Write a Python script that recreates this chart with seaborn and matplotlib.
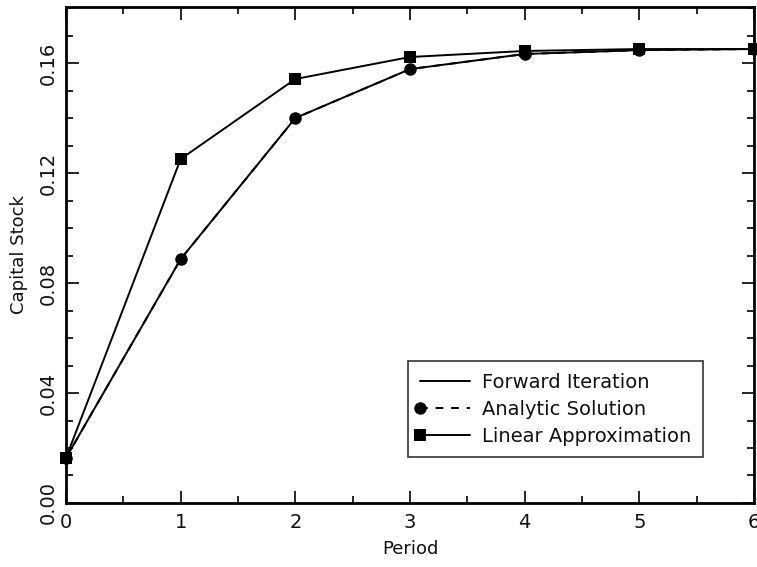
import numpy as np
import pandas as pd
import matplotlib
matplotlib.use("Agg")
import matplotlib.pyplot as plt
import seaborn as sns
from matplotlib.ticker import MultipleLocator, FormatStrFormatter
from matplotlib.legend_handler import HandlerLine2D
from matplotlib.lines import Line2D

period = [0, 1, 2, 3, 4, 5, 6]
forward_iteration = [0.0164, 0.0887, 0.1400, 0.1578, 0.1633, 0.1647, 0.1651]
analytic_solution = [0.0164, 0.0887, 0.1400, 0.1578, 0.1633, 0.1647, 0.1651]
linear_approx = [0.0164, 0.1251, 0.1542, 0.1622, 0.1644, 0.1651, 0.1651]
series_names = ["Forward Iteration", "Analytic Solution", "Linear Approximation"]

sns.set_style("white")
plt.rcParams['font.family'] = ['DejaVu Sans']


class LeftMarkerHandler(HandlerLine2D):
    def create_artists(self, legend, orig_handle, xdescent, ydescent, width,
                       height, fontsize, trans):
        artists = super().create_artists(legend, orig_handle, xdescent, ydescent,
                                         width, height, fontsize, trans)
        for a in artists:
            a.set_markevery([0])
        return artists


fig = plt.figure(figsize=(7.57, 5.67), dpi=100)
ax = fig.add_axes([0.0872, 0.1129, 0.9088, 0.8748])

df_f = pd.DataFrame({"Period": period, "K": forward_iteration})
df_a = pd.DataFrame({"Period": period, "K": analytic_solution})
df_l = pd.DataFrame({"Period": period, "K": linear_approx})

sns.lineplot(data=df_f, x="Period", y="K", ax=ax, color="black", lw=1.4,
             label=series_names[0], clip_on=False)
sns.lineplot(data=df_a, x="Period", y="K", ax=ax, color="black", lw=1.4,
             linestyle=(0, (4, 4)), marker="o", markersize=9, markeredgewidth=0,
             label=series_names[1], clip_on=False)
sns.lineplot(data=df_l, x="Period", y="K", ax=ax, color="black", lw=1.4,
             marker="s", markersize=9, markeredgewidth=0,
             label=series_names[2], clip_on=False)

ax.set_xlim(0, 6)
ax.set_ylim(0, 0.1804)
ax.xaxis.set_major_locator(MultipleLocator(1))
ax.xaxis.set_minor_locator(MultipleLocator(0.5))
ax.yaxis.set_major_locator(MultipleLocator(0.04))
ax.yaxis.set_minor_locator(MultipleLocator(0.01))
ax.yaxis.set_major_formatter(FormatStrFormatter('%.2f'))
ax.tick_params(which="both", direction="in", top=True, right=True, left=True, bottom=True,
               color="black", width=1.2, labelsize=14, labelcolor="#111111")
ax.tick_params(which="major", length=9)
ax.tick_params(which="minor", length=5)
ax.tick_params(axis="x", pad=7)
ax.tick_params(axis="y", pad=6)
for lbl in ax.get_yticklabels():
    lbl.set_rotation(90)
    lbl.set_va("center")
for s in ax.spines.values():
    s.set_visible(True)
    s.set_color("black")
    s.set_linewidth(2)

ax.set_xlabel("Period", fontsize=13, labelpad=6, color="#111111")
ax.set_ylabel("Capital Stock", fontsize=13, labelpad=8, color="#111111")

handles, labels = ax.get_legend_handles_labels()
leg = ax.legend(handles, labels, loc="lower right", bbox_to_anchor=(0.926, 0.092),
                fontsize=14, frameon=True, fancybox=False, handlelength=2.6,
                borderpad=0.6, labelspacing=0.4, handletextpad=0.6,
                edgecolor="black", borderaxespad=0,
                handler_map={Line2D: LeftMarkerHandler(numpoints=1)})
leg.get_frame().set_linewidth(1.2)
for t in leg.get_texts():
    t.set_color("#111111")

fig.savefig("out.png", dpi=100, facecolor="white")
